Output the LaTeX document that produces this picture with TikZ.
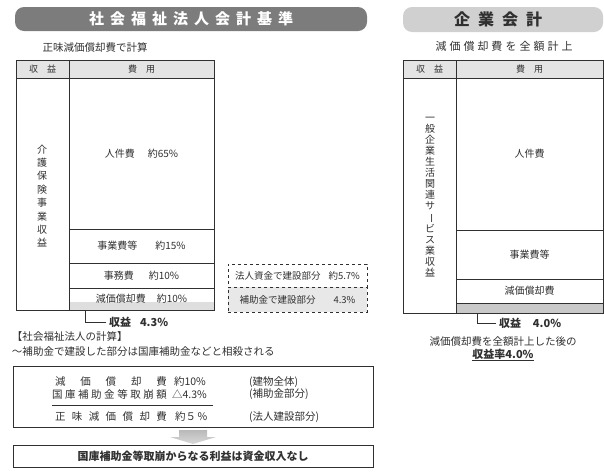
\documentclass[tikz,border=0pt]{standalone}
\usepackage{fontspec}
\setmainfont{Noto Sans CJK JP}
\usepackage{graphicx}
\usetikzlibrary{calc}
\definecolor{ink}{HTML}{303030}
\definecolor{bannerL}{HTML}{7C7C7C}
\definecolor{bannerR}{HTML}{D0D0D0}
\definecolor{headfill}{HTML}{E4E4E4}
\definecolor{stripL}{HTML}{DEDEDE}
\definecolor{stripR}{HTML}{C9C9C9}
\definecolor{dashfill}{HTML}{E8E8E8}
\newcommand\gA{\hspace{6pt}}
\newcommand\gB{\hspace{8pt}}
\newcommand\gC{\hspace{3pt}}
\newcommand\vbar{\rotatebox[origin=c]{-90}{ー}}
\begin{document}
\begin{tikzpicture}[x=1pt,y=-1pt,
  every node/.style={inner sep=0pt, outer sep=0pt, text=ink},
  cell/.style={draw=ink, line width=0.7pt, anchor=north west},
  txt/.style={font=\fontsize{10}{12}\selectfont},
  hdr/.style={font=\fontsize{9}{10}\selectfont},
  vtxt/.style={align=center},
  dbox/.style={draw=ink, line width=0.7pt, dashed, anchor=north west, minimum width=139pt},
  conn/.style={draw=ink, line width=0.9pt},
  bold/.style={font=\fontsize{11}{12}\selectfont\bfseries},
  body/.style={font=\fontsize{10.5}{12}\selectfont}]
\useasboundingbox (0,0) rectangle (604,472);

% ---------- banners ----------
\node[fill=bannerL, rounded corners=9pt, minimum width=352pt, minimum height=24pt, anchor=north west] (banL) at (15,7) {};
\node[font=\fontsize{15}{15}\selectfont\bfseries, text=white] (banLt) at (banL.center) {社\gA 会\gA 福\gA 祉\gA 法\gA 人\gA 会\gA 計\gA 基\gA 準};
\node[fill=bannerR, rounded corners=9pt, minimum width=200pt, minimum height=25pt, anchor=north west] (banR) at (403,7) {};
\node[font=\fontsize{16}{16}\selectfont\bfseries] (banRt) at (498,19.5) {企\gB 業\gB 会\gB 計};

% ---------- subtitles ----------
\node[font=\fontsize{10.5}{12}\selectfont] (subL) at (95,47) {正味減価償却費で計算};
\node[font=\fontsize{11}{12}\selectfont] (subR) at (504,46) {減\gC 価\gC 償\gC 却\gC 費\gC を\gC 全\gC 額\gC 計\gC 上};

% ---------- left table ----------
\node[cell, fill=headfill, minimum width=53pt, minimum height=18pt, hdr] (Lh1) at (16,60) {収\hspace{9pt}益};
\node[cell, fill=headfill, minimum width=145pt, minimum height=18pt, hdr] (Lh2) at (69,60) {費\hspace{9pt}用};
\node[cell, minimum width=53pt, minimum height=232pt] (Lrev) at (16,78) {};
\node[vtxt, font=\fontsize{10}{13.4}\selectfont] (LrevT) at (42,196) {介\\護\\保\\険\\事\\業\\収\\益};
\node[cell, minimum width=145pt, minimum height=151pt, txt] (Lc1) at (69,78) {人件費\hspace{13pt}約65\%};
\node[cell, minimum width=145pt, minimum height=34pt, txt] (Lc2) at (69,229) {事業費等\hspace{18pt}約15\%};
\node[cell, minimum width=145pt, minimum height=25pt, txt] (Lc3) at (69,263) {事務費\hspace{15pt}約10\%};
\node[fill=stripL, minimum width=145pt, minimum height=8pt, anchor=north west] (Lstrip) at (69,302) {};
\node[cell, minimum width=145pt, minimum height=22pt, txt] (Lc4) at (69,288) {減価償却費\hspace{11pt}約10\%};

% dashed boxes
\node[dbox, minimum height=23pt, font=\fontsize{9.5}{11}\selectfont] (D1) at (228,264) {法人資金で建設部分\hspace{8pt}約5.7\%};
\node[dbox, fill=dashfill, minimum height=25pt, font=\fontsize{9.5}{11}\selectfont] (D2) at (228,287) {補助金で建設部分\hspace{18pt}4.3\%};

% profit label left
\node[bold, anchor=west] (LpL) at (109,322) {収益\hspace{9pt}4.3\%};
\coordinate (LcS) at (85,310);
\draw[conn, shorten >=3pt] (LcS) |- (LpL.west);

% ---------- right table ----------
\node[cell, fill=headfill, minimum width=53pt, minimum height=18pt, hdr] (Rh1) at (403,60) {収\hspace{9pt}益};
\node[cell, fill=headfill, minimum width=147pt, minimum height=18pt, hdr] (Rh2) at (456,60) {費\hspace{9pt}用};
\node[cell, minimum width=53pt, minimum height=235pt] (Rrev) at (403,78) {};
\node[vtxt, font=\fontsize{10}{11}\selectfont] (RrevT) at (430,197) {一\\般\\企\\業\\生\\活\\関\\連\\サ\\\vbar\\ビ\\ス\\業\\収\\益};
\node[cell, minimum width=147pt, minimum height=152pt, txt] (Rc1) at (456,78) {人件費};
\node[cell, minimum width=147pt, minimum height=49pt, txt] (Rc2) at (456,230) {事業費等};
\node[cell, minimum width=147pt, minimum height=24pt, txt] (Rc3) at (456,279) {減価償却費};
\node[cell, fill=stripR, minimum width=147pt, minimum height=10pt] (Rstrip) at (456,303) {};

\node[bold, anchor=west] (RpL) at (499,323) {収益\hspace{12pt}4.0\%};
\coordinate (RcS) at (477,313);
\draw[conn, shorten >=3pt] (RcS) |- (RpL.west);

\node[body] (Rnote1) at (503,342) {減価償却費を全額計上した後の};
\node[bold] (Rnote2) at (503,355) {\underline{収益率4.0\%}};

% ---------- left lower part ----------
\node[body, anchor=west] (calcT) at (12,337) {【社会福祉法人の計算】};
\node[body, anchor=west] (calcS) at (12,352) {～補助金で建設した部分は国庫補助金などと相殺される};

\node[draw=ink, line width=0.7pt, anchor=north west, minimum width=360pt, minimum height=61pt] (CB) at (13,366) {};
\node[body, anchor=west] (r1a) at (55,382) {\makebox[112pt]{減\hfill 価\hfill 償\hfill 却\hfill 費}};
\node[body, anchor=west] (r1b) at (174,382) {約10\%};
\node[body, anchor=west] (r1c) at (249,382) {(建物全体)};
\node[body, anchor=west] (r2a) at (52,394) {\makebox[115pt]{国\hfill 庫\hfill 補\hfill 助\hfill 金\hfill 等\hfill 取\hfill 崩\hfill 額}};
\node[body, anchor=west] (r2b) at (172,394) {△4.3\%};
\node[body, anchor=west] (r2c) at (249,394) {(補助金部分)};
\node[body, anchor=west] (r3a) at (55,417) {\makebox[112pt]{正\hfill 味\hfill 減\hfill 価\hfill 償\hfill 却\hfill 費}};
\node[body, anchor=west] (r3b) at (175,417) {約５\,\%};
\node[body, anchor=west] (r3c) at (249,417) {(法人建設部分)};
\draw[ink, line width=0.9pt] (52,405) coordinate (ulA) -- (213,405) coordinate (ulB);

\node[draw=ink, line width=0.7pt, anchor=north west, minimum width=360pt, minimum height=22pt, font=\fontsize{11}{12}\selectfont\bfseries] (BB) at (13,445) {国庫補助金等取崩からなる利益は資金収入なし};

% down arrow between boxes
\shade[top color=gray!55, bottom color=gray!30, draw=none]
  ($(CB.south)+(-14,3)$) -- ($(CB.south)+(14,3)$) -- ($(CB.south)+(14,10)$) -- ($(CB.south)+(23,10)$)
  -- ($(BB.north)+(0,-1)$) -- ($(CB.south)+(-23,10)$) -- ($(CB.south)+(-14,10)$) -- cycle;
\end{tikzpicture}
\end{document}
